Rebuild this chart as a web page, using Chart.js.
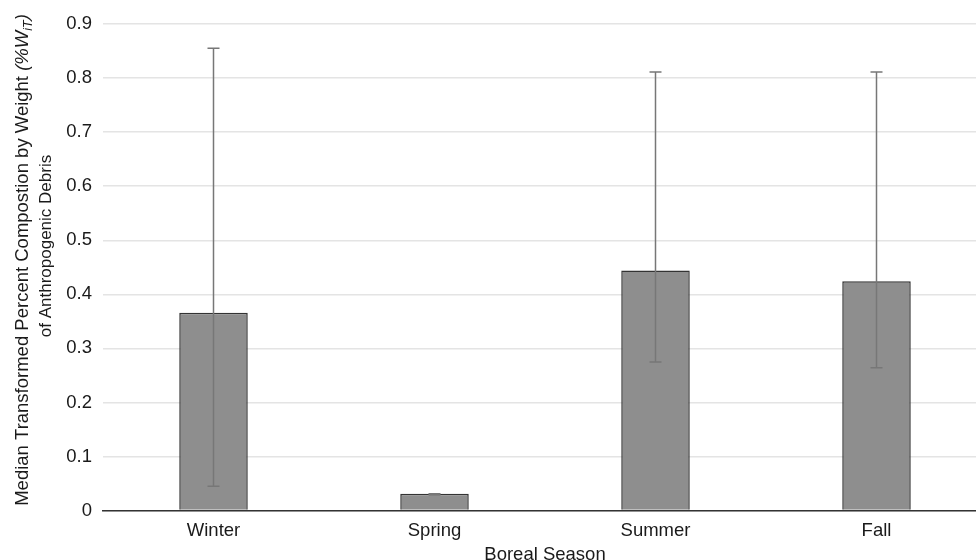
<!DOCTYPE html>
<html>
<head>
<meta charset="utf-8">
<script src="https://cdn.jsdelivr.net/npm/chart.js@4"></script>
<style>
    html, body { margin: 0; padding: 0; background: #fff; overflow: hidden; }
    #wrap { position: relative; width: 988px; height: 572px; }
</style>
</head>
<body>
<div id="wrap"><canvas id="seasonChart"></canvas></div>
<script>
// Data
const seasons = ['Winter', 'Spring', 'Summer', 'Fall'];
const medianValues = [0.366, 0.031, 0.444, 0.424];
const errorLow = [0.045, 0.029, 0.275, 0.264];
const errorHigh = [0.855, 0.031, 0.811, 0.811];
const yTicks = [0, 0.1, 0.2, 0.3, 0.4, 0.5, 0.6, 0.7, 0.8, 0.9];

const FONT = '"Liberation Sans", Arial, Helvetica, sans-serif';
const FSIZE = 18.5;

// Whiskers drawn on top of the bars, positioned through the scales
const errorBarPlugin = {
    id: 'errorBars',
    afterDatasetsDraw(chart) {
        const ctx = chart.ctx;
        const x = chart.scales.x;
        const y = chart.scales.y;
        ctx.save();
        ctx.strokeStyle = '#777777';
        ctx.lineWidth = 1.5;
        seasons.forEach((s, i) => {
            const px = x.getPixelForValue(i);
            const top = y.getPixelForValue(errorHigh[i]);
            const bot = y.getPixelForValue(errorLow[i]);
            ctx.beginPath();
            ctx.moveTo(px, top);
            ctx.lineTo(px, bot);
            ctx.moveTo(px - 6, top);
            ctx.lineTo(px + 6, top);
            ctx.moveTo(px - 6, bot);
            ctx.lineTo(px + 6, bot);
            ctx.stroke();
        });
        ctx.restore();
    }
};

// Two-line rotated y title with italic %W and subscript iT
const yTitlePlugin = {
    id: 'yTitle',
    afterDraw(chart) {
        const ctx = chart.ctx;
        ctx.save();
        ctx.fillStyle = '#1a1a1a';
        ctx.textBaseline = 'alphabetic';
        ctx.textAlign = 'left';

        const parts = [
            { t: 'Median Transformed Percent Compostion by Weight ', f: FSIZE + 'px ' + FONT, dy: 0 },
            { t: '(%W', f: 'italic ' + FSIZE + 'px ' + FONT, dy: 0 },
            { t: 'iT', f: 'italic 12.5px ' + FONT, dy: 4 },
            { t: ')', f: 'italic ' + FSIZE + 'px ' + FONT, dy: 0 }
        ];
        let total = 0;
        parts.forEach(p => { ctx.font = p.f; p.w = ctx.measureText(p.t).width; total += p.w; });

        ctx.translate(28, 260);
        ctx.rotate(-Math.PI / 2);
        let cx = -total / 2;
        parts.forEach(p => {
            ctx.font = p.f;
            ctx.fillText(p.t, cx, p.dy);
            cx += p.w;
        });
        ctx.restore();

        ctx.save();
        ctx.fillStyle = '#1a1a1a';
        ctx.font = '17px ' + FONT;
        ctx.textAlign = 'center';
        ctx.textBaseline = 'alphabetic';
        ctx.translate(51, 246);
        ctx.rotate(-Math.PI / 2);
        ctx.fillText('of Anthropogenic Debris', 0, 0);
        ctx.restore();
    }
};

const chart = new Chart(document.getElementById('seasonChart'), {
    type: 'bar',
    data: {
        labels: seasons,
        datasets: [{
            data: medianValues,
            backgroundColor: '#8e8e8e',
            borderColor: '#333333',
            borderWidth: 1.5,
            barPercentage: 0.31,
            categoryPercentage: 1
        }]
    },
    options: {
        responsive: true,
        maintainAspectRatio: false,
        animation: false,
        layout: {
            padding: { top: 24, right: 1, bottom: 0, left: 0 }
        },
        plugins: {
            legend: { display: false },
            tooltip: { enabled: false }
        },
        scales: {
            x: {
                grid: { display: true, drawOnChartArea: false, drawTicks: false },
                border: { display: true, color: '#333333', width: 1.5 },
                ticks: {
                    color: '#1a1a1a',
                    padding: 9,
                    font: { family: FONT, size: FSIZE }
                },
                title: {
                    display: true,
                    text: 'Boreal Season',
                    color: '#1a1a1a',
                    padding: { top: -7, bottom: 6 },
                    font: { family: FONT, size: FSIZE }
                }
            },
            y: {
                min: 0,
                max: 0.9,
                afterFit: (scale) => { scale.width = 103; },
                afterBuildTicks: (scale) => { scale.ticks = yTicks.map(v => ({ value: v })); },
                grid: {
                    drawTicks: false,
                    color: '#e4e4e4',
                    lineWidth: 1.5
                },
                border: { display: false },
                ticks: {
                    color: '#1a1a1a',
                    padding: 11,
                    font: { family: FONT, size: FSIZE },
                    callback: (v) => v === 0 ? '0' : v.toFixed(1)
                }
            }
        }
    },
    plugins: [errorBarPlugin, yTitlePlugin]
});
</script>
</body>
</html>
